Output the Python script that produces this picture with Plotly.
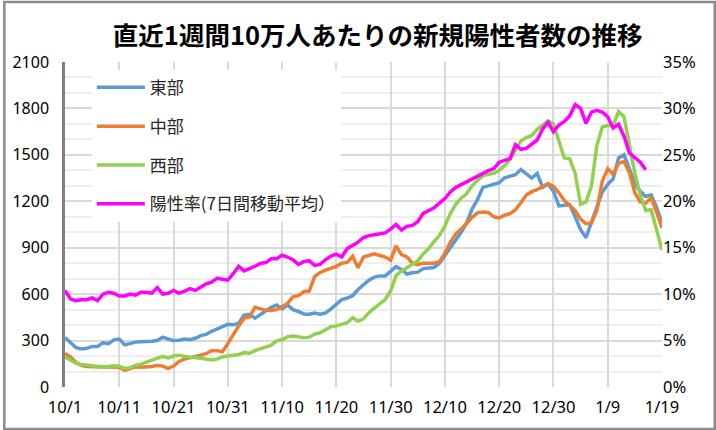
import pandas as pd
import plotly.graph_objects as go

dates = pd.date_range("2020-10-01", "2021-01-19", freq="D")

east = [320, 290, 255, 245, 250, 262, 262, 285, 280, 305,
        310, 272, 280, 290, 292, 292, 295, 300, 322, 310,
        300, 302, 310, 305, 315, 332, 340, 360, 375, 395,
        405, 402, 410, 465, 470, 445, 470, 495, 515, 530,
        505, 530, 500, 488, 472, 470, 478, 470, 478, 505,
        535, 565, 575, 590, 630, 660, 690, 710, 718, 718,
        745, 778, 760, 730, 738, 742, 765, 768, 772, 800,
        850, 895, 945, 1000, 1060, 1150, 1210, 1290, 1300, 1310,
        1320, 1352, 1362, 1372, 1405, 1380, 1350, 1380, 1290, 1312,
        1265, 1170, 1175, 1178, 1100, 1016, 965, 1060, 1170, 1260,
        1310, 1345, 1480, 1500, 1410, 1310, 1265, 1231, 1242, 1160,
        1060]

central = [216, 195, 160, 140, 132, 130, 128, 130, 130, 130,
           128, 108, 118, 130, 128, 130, 132, 140, 135, 120,
           135, 165, 180, 188, 195, 205, 215, 235, 235, 228,
           280, 340, 395, 445, 452, 515, 505, 497, 495, 500,
           520, 540, 583, 590, 616, 620, 713, 740, 755, 765,
           780, 800, 805, 845, 770, 840, 850, 860, 850, 840,
           820, 912, 855, 840, 800, 790, 800, 802, 800, 810,
           865, 935, 990, 1020, 1060, 1095, 1125, 1130, 1128, 1100,
           1092, 1110, 1120, 1145, 1190, 1240, 1262, 1275, 1296, 1314,
           1296, 1255, 1205, 1175, 1140, 1085, 1055, 1060, 1140, 1330,
           1410, 1375, 1445, 1458, 1385, 1255, 1195, 1188, 1222, 1130,
           1027]

west = [194, 175, 155, 145, 140, 138, 135, 130, 132, 138,
        135, 120, 125, 140, 148, 160, 172, 180, 198, 188,
        200, 205, 198, 192, 190, 185, 180, 175, 180, 194,
        200, 205, 210, 222, 218, 235, 245, 255, 270, 298,
        305, 325, 330, 325, 318, 322, 342, 350, 367, 390,
        395, 405, 415, 448, 425, 440, 480, 510, 535, 565,
        620, 720, 750, 770, 790, 815, 860, 895, 940, 980,
        1040, 1120, 1180, 1220, 1250, 1300, 1335, 1365, 1375, 1380,
        1400, 1430, 1470, 1534, 1590, 1612, 1625, 1665, 1690, 1720,
        1700, 1590, 1480, 1475, 1380, 1180, 1195, 1300, 1560, 1680,
        1690, 1690, 1780, 1745, 1560, 1380, 1240, 1140, 1145, 1020,
        886]

positivity = [10.4, 9.5, 9.3, 9.4, 9.4, 9.6, 9.3, 10.0, 10.2, 10.1,
              9.8, 9.8, 10.0, 9.9, 10.2, 10.2, 10.1, 10.7, 10.0, 10.1,
              10.4, 10.1, 10.3, 10.6, 10.4, 10.8, 11.1, 11.3, 11.7, 11.6,
              11.5, 12.2, 13.0, 12.5, 12.7, 13.0, 13.3, 13.4, 13.8, 13.8,
              14.2, 14.0, 13.7, 13.2, 13.5, 13.6, 13.1, 13.2, 13.7, 14.1,
              14.3, 14.0, 14.9, 15.2, 15.6, 16.1, 16.3, 16.4, 16.5, 16.6,
              17.0, 17.5, 16.9, 17.3, 17.4, 17.8, 18.7, 19.0, 19.3, 19.8,
              20.3, 21.0, 21.5, 21.8, 22.1, 22.5, 22.8, 23.1, 23.3, 23.5,
              24.2, 24.4, 24.6, 26.1, 25.6, 25.7, 26.2, 26.6, 27.8, 28.5,
              27.5, 28.2, 28.6, 29.2, 30.4, 30.0, 28.4, 29.6, 29.8, 29.6,
              29.1, 27.9, 28.3, 27.0, 25.2, 24.7, 24.2, 23.4]

tick_dates = ["2020-10-01", "2020-10-11", "2020-10-21", "2020-10-31", "2020-11-10",
              "2020-11-20", "2020-11-30", "2020-12-10", "2020-12-20", "2020-12-30",
              "2021-01-09", "2021-01-19"]
tick_labels = ["10/1", "10/11", "10/21", "10/31", "11/10", "11/20", "11/30",
               "12/10", "12/20", "12/30", "1/9", "1/19"]

FONT = "Noto Sans, Noto Sans CJK JP, sans-serif"
JP = "Noto Sans CJK JP, Noto Sans, sans-serif"

fig = go.Figure()
series = [("東部", east, "#5B9BD5", "y"),
          ("中部", central, "#ED7D31", "y"),
          ("西部", west, "#92D050", "y"),
          ("陽性率(7日間移動平均）", positivity, "#FF00FF", "y2")]
for i, (name, vals, col, ax) in enumerate(series):
    fig.add_trace(go.Scatter(
        x=dates[:len(vals)], y=vals, name=name, mode="lines",
        line=dict(color=col, width=3.5), yaxis=ax, legendgroup=f"g{i}"))

fig.update_layout(
    width=716, height=430,
    margin=dict(l=62, r=54, t=62, b=43),
    paper_bgcolor="white", plot_bgcolor="white",
    title=dict(text="<b>直近1週間10万人あたりの新規陽性者数の推移</b>",
               x=0.5275, xanchor="center", y=0.915, yanchor="middle",
               font=dict(family=JP, size=25.5, color="#000000")),
    font=dict(family=FONT, size=16.5, color="#000000"),
    showlegend=True,
    legend=dict(x=0.045, y=0.976, xanchor="left", yanchor="top",
                bgcolor="white", borderwidth=0, tracegroupgap=13.7,
                font=dict(family=JP, size=17, color="#262626"),
                itemwidth=48),
    xaxis=dict(type="date", range=["2020-10-01", "2021-01-19"],
               tickvals=tick_dates, ticktext=tick_labels, tickangle=0,
               showgrid=True, gridcolor="#d9d9d9", gridwidth=2,
               showline=False, zeroline=False,
               ticks="outside", ticklen=5, tickcolor="rgba(0,0,0,0)",
               tickfont=dict(family=FONT, size=16.5, color="#000000")),
    yaxis=dict(range=[0, 2100], dtick=300, showgrid=True,
               gridcolor="#d9d9d9", gridwidth=2,
               minor=dict(dtick=100, showgrid=True, gridcolor="#eeeeee", gridwidth=1.5),
               showline=True, linecolor="#808080", linewidth=2.5,
               zeroline=False, ticks="outside", ticklen=10,
               tickcolor="rgba(0,0,0,0)",
               tickfont=dict(family=FONT, size=16, color="#000000")),
    yaxis2=dict(range=[0, 35], dtick=5, ticksuffix="%", overlaying="y",
                side="right", showgrid=False, zeroline=False, showline=False,
                ticks="",
                tickfont=dict(family=FONT, size=16.5, color="#000000")),
    shapes=[dict(type="rect", xref="paper", yref="paper",
                 x0=-61/600, x1=1+53/600, y0=-42/325, y1=1+60/325,
                 line=dict(color="#8c8c8c", width=2.5), layer="above")],
)

fig.write_html("out.html", config={"displayModeBar": False},
               post_script="document.body.style.margin='0px';")
